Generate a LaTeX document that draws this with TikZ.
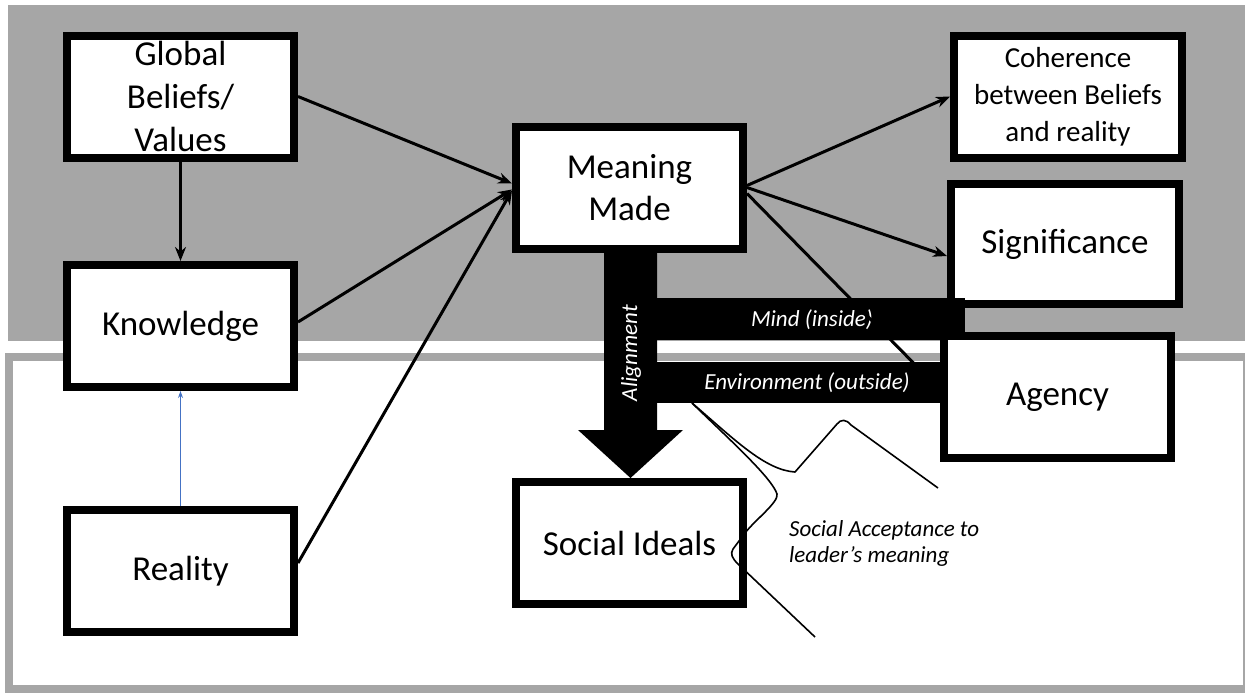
\documentclass[tikz,border=0pt]{standalone}
\usepackage{fontspec}
\setmainfont{Carlito}
\usetikzlibrary{arrows.meta,calc}
\definecolor{bggray}{HTML}{A6A6A6}
\definecolor{linkblue}{HTML}{4472C4}
\begin{document}
\begin{tikzpicture}[x=1pt,y=-1pt,
  box/.style={draw=black,fill=white,line width=8pt,inner sep=0pt,align=center,
    minimum width=227pt,minimum height=122pt,font=\fontsize{35}{43}\selectfont},
  conn/.style={line width=3pt,-{Stealth[length=14pt,width=11pt]}},
  barlabel/.style={text=white,inner sep=0pt,font=\itshape\fontsize{23}{27}\selectfont},
  callout/.style={line width=1.6pt,line join=round},
]
\useasboundingbox (0,0) rectangle (1245,694);
% backgrounds
\fill[bggray] (8,5) rectangle (1245,341);
\draw[bggray,line width=8pt] (9,357) rectangle (1247,689);

% nodes
\node[box] (gb) at (180.5,96.5) {Global\\Beliefs/\\Values};
\node[box] (kn) at (180.5,326) {Knowledge};
\node[box] (re) at (180.5,571) {Reality};
\node[box,font=\fontsize{35}{42}\selectfont] (mm) at (629.5,187.5) {Meaning\\Made};
\node[box,minimum width=228pt,font=\fontsize{29}{37}\selectfont] (co) at (1068,96.5) {Coherence\\between Beliefs\\and reality};
\node[box,minimum width=228pt,minimum height=120pt] (si) at (1065,244) {Significance};
\node[box] (ag) at (1057.5,397) {Agency};
\node[box] (so) at (629.5,543) {Social Ideals};

% connectors on the left
\draw[conn] (gb) -- (kn);
\draw[conn] (gb.east) -- ([yshift=4pt]mm.west);
\draw[conn] ([yshift=4pt]kn.east) -- ([yshift=-2pt]mm.west);
\draw[conn] ([yshift=8pt]re.east) -- ([yshift=-3pt]mm.west);
\draw[linkblue,line width=1pt,-{Stealth[length=7pt,width=5pt]}] (re) -- (kn);

% connectors on the right
\draw[conn] ([yshift=2pt]mm.east) -- (co.west);
\draw[conn] (mm.east) -- ([yshift=-12pt]si.west);

% alignment arrow and bars
\fill[black] (604,252) -- (657,252) -- (657,430) -- (683,430) -- (630.5,478)
  -- (578,430) -- (604,430) -- cycle;
\node[barlabel,rotate=90] (al) at (631,353) {Alignment};
\fill[black] (657,298) rectangle (965,340);
\node[barlabel] (mi) at (812,320) {Mind (inside)};
\draw[conn] ([yshift=-6pt]mm.east) -- ([yshift=7pt]ag.west);
\fill[black] (657,362) rectangle (944,403);
\node[barlabel] (en) at (807,383) {Environment (outside)};

% social acceptance callout
\coordinate (cs) at (692,403);
\draw[callout] (cs) .. controls (735,440) and (765,470) .. (795,472)
  -- (837,424) .. controls (841,419) and (846,419) .. (851,425) -- (938,488);
\draw[callout] (cs) .. controls (730,440) and (772,478) .. (777,494)
  .. controls (779,502) and (755,520) .. (745,533) -- (733,549)
  .. controls (730,554) and (732,558) .. (738,564) -- (815,637);
\node[anchor=west,align=left,inner sep=0pt,font=\itshape\fontsize{23}{26}\selectfont] (sa)
  at (789,543) {Social Acceptance to\\leader’s meaning};
\end{tikzpicture}
\end{document}
